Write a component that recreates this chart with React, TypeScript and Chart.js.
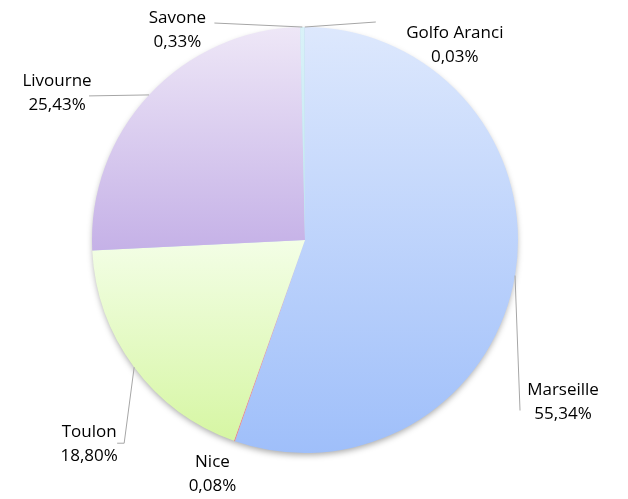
import React, { useEffect, useRef } from "react";
import { Chart, registerables } from "chart.js";

Chart.register(...registerables);

const categories = ["Marseille", "Nice", "Toulon", "Livourne", "Savone", "Golfo Aranci"];
const shares = [55.34, 0.08, 18.8, 25.43, 0.33, 0.03];

// gradient colours per slice: [top, bottom]
const sliceColors: [string, string][] = [
  ["#dde8fd", "#9fbffa"],
  ["#f0a0a0", "#e98a8a"],
  ["#f3fee6", "#d6f6a3"],
  ["#eee7f7", "#c5b1e7"],
  ["#d9f2f8", "#bfe6f0"],
  ["#cfe3f5", "#b7d3ee"],
];

// label layout relative to arc mid point: label centre offset, leader polyline offsets
const labelLayout: { dx: number; dy: number; line: [number, number][] }[] = [
  { dx: 48, dy: 127, line: [[5, 135]] },
  { dx: -22, dy: 33, line: [] },
  { dx: -45, dy: 77, line: [[-10, 76], [-17, 76]] },
  { dx: -92, dy: -2, line: [[-60, 1]] },
  { dx: -125, dy: 3, line: [[-88, -4]] },
  { dx: 150, dy: 18, line: [[71, -5]] },
];

const fmt = (v: number) => v.toFixed(2).replace(".", ",") + "%";

function sliceYRange(index: number, cy: number, r: number) {
  const total = shares.reduce((a, b) => a + b, 0);
  let start = 0;
  for (let i = 0; i < index; i++) start += shares[i];
  const a0 = (start / total) * Math.PI * 2;
  const a1 = ((start + shares[index]) / total) * Math.PI * 2;
  const ys = [cy, cy - r * Math.cos(a0), cy - r * Math.cos(a1)];
  if (a0 <= 0 && a1 >= 0) ys.push(cy - r);
  if (a0 <= Math.PI && a1 >= Math.PI) ys.push(cy + r);
  return [Math.min(...ys), Math.max(...ys)];
}

const shadowPlugin = {
  id: "pieShadow",
  beforeDatasetsDraw(chart: any) {
    const ctx = chart.ctx;
    const arc = chart.getDatasetMeta(0).data[0];
    if (!arc) return;
    const { x, y, outerRadius } = arc.getProps(["x", "y", "outerRadius"], true);
    ctx.save();
    ctx.shadowColor = "rgba(0,0,0,0.35)";
    ctx.shadowBlur = 6;
    ctx.shadowOffsetX = 0;
    ctx.shadowOffsetY = 3;
    ctx.fillStyle = "#c8d8f0";
    ctx.beginPath();
    ctx.arc(x, y, outerRadius - 1, 0, Math.PI * 2);
    ctx.fill();
    ctx.restore();
  },
};

const labelPlugin = {
  id: "excelLabels",
  afterDatasetsDraw(chart: any) {
    const ctx = chart.ctx;
    const meta = chart.getDatasetMeta(0);
    ctx.save();
    meta.data.forEach((arc: any, i: number) => {
      const { x, y, startAngle, endAngle, outerRadius } = arc.getProps(
        ["x", "y", "startAngle", "endAngle", "outerRadius"],
        true
      );
      const mid = (startAngle + endAngle) / 2;
      const ax = x + Math.cos(mid) * outerRadius;
      const ay = y + Math.sin(mid) * outerRadius;
      const lay = labelLayout[i];
      if (lay.line.length) {
        ctx.beginPath();
        ctx.strokeStyle = "#a6a6a6";
        ctx.lineWidth = 1;
        ctx.moveTo(ax, ay);
        lay.line.forEach(([dx, dy]) => ctx.lineTo(ax + dx, ay + dy));
        ctx.stroke();
      }
      const lx = ax + lay.dx;
      const ly = ay + lay.dy;
      ctx.fillStyle = "#000000";
      ctx.font = "17px 'Open Sans', sans-serif";
      ctx.textAlign = "center";
      ctx.textBaseline = "middle";
      ctx.fillText(categories[i], lx, ly - 12);
      ctx.fillText(fmt(shares[i]), lx, ly + 12);
    });
    ctx.restore();
  },
};

export default function App() {
  const ref = useRef<HTMLCanvasElement | null>(null);
  useEffect(() => {
    document.body.style.margin = "0";
    const canvas = ref.current!;
    const chart = new Chart(canvas, {
      type: "pie",
      data: {
        labels: categories,
        datasets: [
          {
            data: shares,
            borderWidth: 0,
            backgroundColor: (c: any) => {
              const ch = c.chart;
              const area = ch.chartArea;
              const i = c.dataIndex;
              if (!area || i === undefined) return sliceColors[i ?? 0][0];
              const cy = (area.top + area.bottom) / 2;
              const r = Math.min(area.right - area.left, area.bottom - area.top) / 2;
              const [y0, y1] = sliceYRange(i, cy, r);
              const g = ch.ctx.createLinearGradient(0, y0, 0, y1 + 0.01);
              g.addColorStop(0, sliceColors[i][0]);
              g.addColorStop(1, sliceColors[i][1]);
              return g;
            },
          },
        ],
      },
      options: {
        animation: false,
        responsive: false,
        layout: { padding: { left: 92, right: 110, top: 27, bottom: 46 } },
        plugins: {
          legend: { display: false },
          tooltip: { enabled: false },
        },
      },
      plugins: [shadowPlugin, labelPlugin],
    });
    return () => chart.destroy();
  }, []);
  return (
    <div style={{ width: 628, height: 499, background: "#ffffff" }}>
      <canvas ref={ref} width={628} height={499} style={{ display: "block" }} />
    </div>
  );
}
